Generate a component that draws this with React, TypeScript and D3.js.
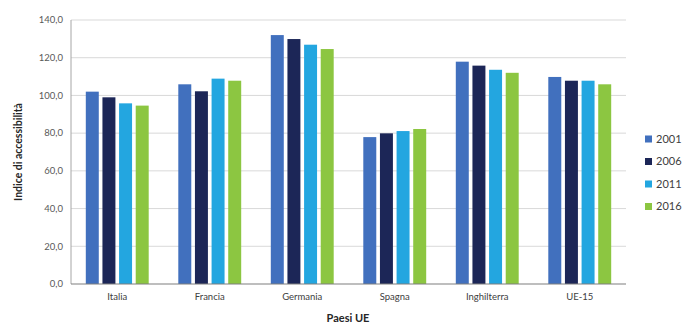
import React from "react";
import * as d3 from "d3";

const categories = ["Italia", "Francia", "Germania", "Spagna", "Inghilterra", "UE-15"];
const seriesNames = ["2001", "2006", "2011", "2016"];
const values2001 = [102.0, 105.9, 132.0, 77.9, 117.9, 109.8];
const values2006 = [99.0, 102.2, 129.9, 79.9, 115.8, 107.8];
const values2011 = [95.8, 108.9, 126.9, 81.1, 113.6, 107.8];
const values2016 = [94.6, 107.8, 124.6, 82.2, 112.0, 105.9];
const yTicks = [0, 20, 40, 60, 80, 100, 120, 140];
const colors = ["#4170be", "#1c2657", "#23a6e0", "#8cc641"];

const W = 698, H = 333;
const left = 71, right = 626, top = 20, bottom = 284;

export default function App() {
  const series = [values2001, values2006, values2011, values2016];
  const x0 = d3.scaleBand().domain(categories).range([left, right]).paddingInner(0.32).paddingOuter(0.16);
  const x1 = d3.scaleBand().domain(seriesNames).range([0, x0.bandwidth()]).paddingInner(0.22);
  const y = d3.scaleLinear().domain([0, 140]).range([bottom, top]);
  const fmt = (v: number) => v.toFixed(1).replace(".", ",");
  const font = "Lato, 'Open Sans', sans-serif";
  return (
    <svg width={W} height={H} style={{ position: "absolute", left: 0, top: 0, background: "#fff" }} fontFamily={font}>
      {yTicks.map((t) => (
        <g key={t}>
          {t > 0 && <line x1={left} x2={right} y1={y(t)} y2={y(t)} stroke="#d9d9d9" strokeWidth={1} />}
          <text x={63} y={y(t)} dy="0.35em" textAnchor="end" fontSize={9.5} fill="#595959">{fmt(t)}</text>
        </g>
      ))}
      <line x1={left} x2={left} y1={top} y2={bottom} stroke="#a6a6a6" strokeWidth={1} />
      {categories.map((c, i) => (
        <g key={c}>
          {series.map((s, j) => (
            <rect key={j} x={(x0(c) as number) + (x1(seriesNames[j]) as number)} y={y(s[i])}
              width={x1.bandwidth()} height={bottom - y(s[i])} fill={colors[j]} />
          ))}
          <text x={(x0(c) as number) + x0.bandwidth() / 2} y={300} textAnchor="middle" fontSize={9.5} fill="#404040">{c}</text>
        </g>
      ))}
      <line x1={left} x2={right} y1={bottom} y2={bottom} stroke="#7f7f7f" strokeWidth={1.2} />
      <text x={348} y={322} textAnchor="middle" fontSize={11} fontWeight="bold" fill="#262626">Paesi UE</text>
      <text transform={`translate(22,${(top + bottom) / 2}) rotate(-90)`} textAnchor="middle" fontSize={10.5} fontWeight="bold" fill="#262626">Indice di accessibilità</text>
      {seriesNames.map((n, j) => (
        <g key={n} transform={`translate(645,${139 + j * 22.5})`}>
          <rect x={0} y={-3.5} width={7} height={7} fill={colors[j]} />
          <text x={11} y={0} dy="0.35em" fontSize={11} fill="#404040">{n}</text>
        </g>
      ))}
    </svg>
  );
}
